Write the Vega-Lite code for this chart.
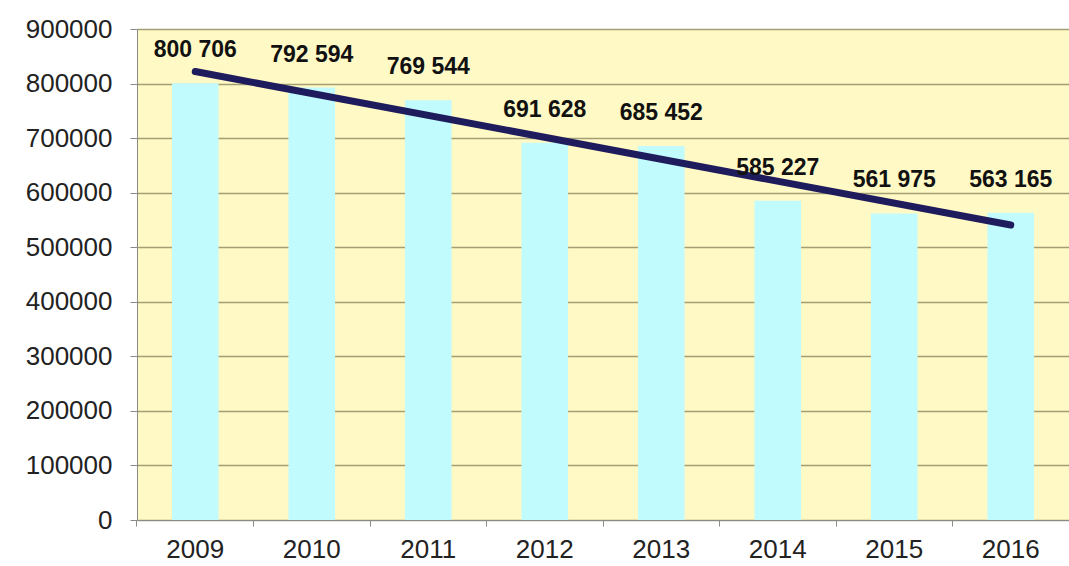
{
  "$schema": "https://vega.github.io/schema/vega-lite/v6.json",
  "width": 932,
  "height": 491,
  "autosize": {"type": "none"},
  "padding": {"left": 137, "top": 29, "right": 0, "bottom": 46},
  "background": "#ffffff",
  "config": {
    "locale": {"number": {"decimal": ".", "thousands": " ", "grouping": [3], "currency": ["", ""]}},
    "view": {"fill": "#FFF9C6", "stroke": null},
    "font": "Liberation Sans"
  },
  "data": {
    "values": [
      {"year": "2009", "value": 800706, "trend": 822000},
      {"year": "2010", "value": 792594},
      {"year": "2011", "value": 769544},
      {"year": "2012", "value": 691628},
      {"year": "2013", "value": 685452},
      {"year": "2014", "value": 585227},
      {"year": "2015", "value": 561975},
      {"year": "2016", "value": 563165, "trend": 540700}
    ]
  },
  "encoding": {
    "x": {
      "field": "year",
      "type": "ordinal",
      "scale": {"paddingInner": 0.6, "paddingOuter": 0.3},
      "axis": {
        "title": null,
        "labelAngle": 0,
        "labelFontSize": 26,
        "labelColor": "#222222",
        "labelPadding": 10,
        "domainColor": "#8a8a8a",
        "tickColor": "#8a8a8a",
        "tickSize": 6,
        "bandPosition": -0.75,
        "grid": false
      }
    }
  },
  "layer": [
    {
      "mark": {"type": "bar", "color": "#C2FBFE"},
      "encoding": {
        "y": {
          "field": "value",
          "type": "quantitative",
          "scale": {"domain": [0, 900000], "nice": false},
          "axis": {
            "title": null,
            "values": [0, 100000, 200000, 300000, 400000, 500000, 600000, 700000, 800000, 900000],
            "format": "d",
            "labelFontSize": 26,
            "labelColor": "#222222",
            "labelPadding": 18,
            "domainColor": "#8a8a8a",
            "tickColor": "#8a8a8a",
            "tickSize": 7,
            "gridColor": "#A39F74",
            "gridWidth": 1.5
          }
        }
      }
    },
    {
      "mark": {"type": "line", "color": "#1E1C5C", "strokeWidth": 7, "strokeCap": "round"},
      "transform": [{"filter": "isValid(datum.trend)"}],
      "encoding": {
        "y": {"field": "trend", "type": "quantitative"}
      }
    },
    {
      "mark": {"type": "text", "fontSize": 23, "fontWeight": "bold", "color": "#111111", "dy": -33},
      "encoding": {
        "y": {"field": "value", "type": "quantitative"},
        "text": {"field": "value", "type": "quantitative", "format": ","}
      }
    }
  ]
}
